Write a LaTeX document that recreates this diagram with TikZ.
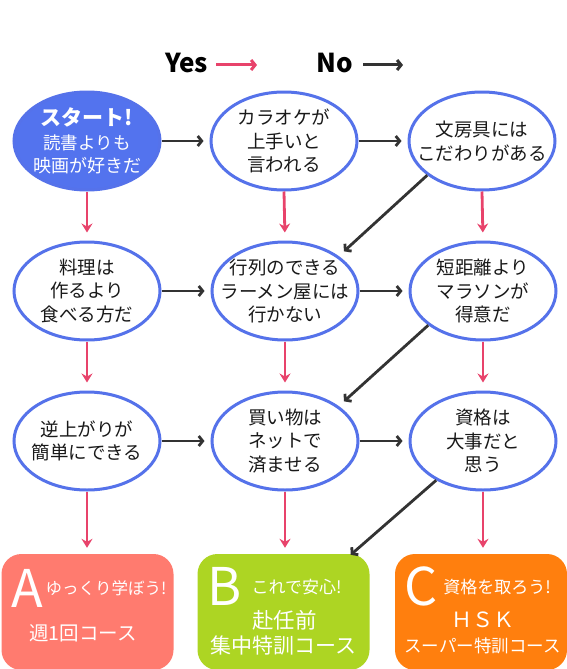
\documentclass[tikz,border=0pt]{standalone}
\usepackage{fontspec}
\newfontfamily\jp{Noto Sans CJK JP}
\usetikzlibrary{arrows.meta,shapes.geometric}
\definecolor{eblue}{HTML}{5572EA}
\definecolor{sblue}{HTML}{5373EE}
\definecolor{yespink}{HTML}{E8436B}
\definecolor{nodark}{HTML}{333333}
\definecolor{boxA}{HTML}{FF7B6F}
\definecolor{boxB}{HTML}{ADD523}
\definecolor{boxC}{HTML}{FF7F0E}
\begin{document}
\begin{tikzpicture}[x=1pt,y=-1pt,
  qbox/.style={ellipse,draw=eblue,line width=3pt,fill=white,minimum width=146pt,minimum height=98pt,inner xsep=-30pt,inner ysep=-20pt,align=center,text=black!90,font=\jp\fontsize{18.5}{23.5}\selectfont},
  startbox/.style={qbox,fill=sblue,text=white,font=\jp\fontsize{17.5}{23.5}\selectfont},
  result/.style={rounded corners=20pt,minimum width=172pt,minimum height=116pt,inner sep=0pt},
  yesarrow/.style={draw=yespink,line width=2.8pt,-{Stealth[length=9pt,width=11pt,inset=3pt]}},
  noarrow/.style={draw=nodark,line width=2.8pt,-{Straight Barb[length=4pt,width=10pt]}},
  big/.style={text=white,inner sep=0pt,anchor=base,font=\jp\fontsize{52}{52}\selectfont},
  btxt/.style={text=white,inner sep=0pt,align=center}
]
\useasboundingbox (0,0) rectangle (567,669);
% legend
\node[font=\jp\bfseries\fontsize{26}{26}\selectfont,inner sep=0pt] (yes) at (186.5,63) {Yes};
\node[font=\jp\bfseries\fontsize{26}{26}\selectfont,inner sep=0pt] (no) at (335,63) {No};
\coordinate (yesEnd) at (257,65);
\coordinate (noEnd) at (403,65);
\draw[draw=yespink,line width=3pt,-{Straight Barb[length=4pt,width=10pt]}] ([xshift=8pt,yshift=-2pt]yes.east) -- (yesEnd);
\draw[noarrow,line width=3pt] ([xshift=10pt,yshift=-2pt]no.east) -- (noEnd);
% question nodes
\node[startbox] (e11) at (87,141) {{\bfseries\fontsize{21}{23.5}\selectfont スタート!}\\読書よりも\\{\fontsize{18}{23.5}\selectfont 映画が好きだ}};
\node[qbox] (e12) at (284,141) {カラオケが\\上手いと\\言われる};
\node[qbox] (e13) at (482,141) {文房具には\\こだわりがある};
\node[qbox] (e21) at (87,291) {料理は\\作るより\\食べる方だ};
\node[qbox] (e22) at (285,291) {行列のできる\\ラーメン屋には\\行かない};
\node[qbox] (e23) at (483,291) {短距離より\\マラソンが\\得意だ};
\node[qbox] (e31) at (87,441) {逆上がりが\\簡単にできる};
\node[qbox] (e32) at (285,441) {買い物は\\ネットで\\済ませる};
\node[qbox] (e33) at (483,441) {資格は\\大事だと\\思う};
% result boxes
\node[result,fill=boxA] (bA) at (87.5,612) {};
\node[result,fill=boxB] (bB) at (283.5,612) {};
\node[result,fill=boxC] (bC) at (481,612) {};
\node[big] (lA) at (27.5,607) {A};
\node[btxt,font=\jp\fontsize{16.5}{20}\selectfont] (tA1) at (106,588) {ゆっくり学ぼう!};
\node[btxt,font=\jp\fontsize{19.5}{24}\selectfont] (tA2) at (83,633) {週1回コース};
\node[big] (lB) at (224.5,605) {B};
\node[btxt,font=\jp\fontsize{17}{20}\selectfont] (tB1) at (296.5,587) {これで安心!};
\node[btxt,font=\jp\fontsize{21.5}{25}\selectfont] (tB2) at (284.5,620) {赴任前};
\node[btxt,font=\jp\fontsize{21}{25}\selectfont] (tB3) at (283.5,646) {集中特訓コース};
\node[big] (lC) at (421.5,605) {C};
\node[btxt,font=\jp\fontsize{17}{20}\selectfont] (tC1) at (497,587) {資格を取ろう!};
\node[btxt,font=\jp\fontsize{21}{25}\selectfont] (tC2) at (483,620) {ＨＳＫ};
\node[btxt,font=\jp\fontsize{17.5}{25}\selectfont] (tC3) at (482.5,646) {スーパー特訓コース};
% No arrows (horizontal)
\foreach \r in {1,2,3}{
  \draw[noarrow,shorten >=6pt] (e\r1.east) -- (e\r2.west);
  \draw[noarrow,shorten >=6pt] (e\r2.east) -- (e\r3.west);
}
% diagonal No arrows
\draw[noarrow,shorten >=7pt] (e13.-148) -- (e22.33);
\draw[noarrow,shorten >=7pt] (e23.-148) -- (e32.33);
\draw[noarrow] (e33.-140) -- ([xshift=-19pt,yshift=-1pt]bB.north east);
% Yes arrows (vertical)
\foreach \c in {1,2,3}{
  \draw[yesarrow,shorten >=8pt] (e1\c.south) -- (e2\c.north);
  \draw[yesarrow,shorten >=8pt] (e2\c.south) -- (e3\c.north);
}
\draw[yesarrow,shorten >=6pt] (e31.south) -- (e31.south |- bA.north);
\draw[yesarrow,shorten >=6pt] (e32.south) -- (e32.south |- bB.north);
\draw[yesarrow,shorten >=6pt] (e33.south) -- (e33.south |- bC.north);
\end{tikzpicture}
\end{document}
